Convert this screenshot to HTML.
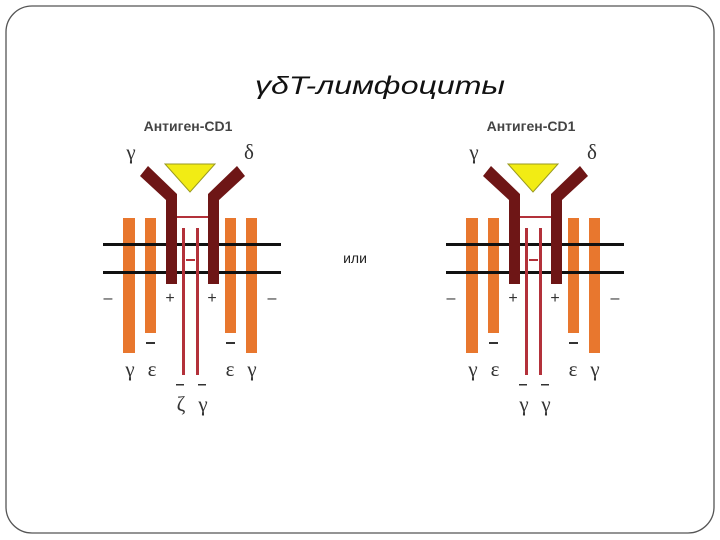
<!DOCTYPE html>
<html><head><meta charset="utf-8"><style>
html,body{margin:0;padding:0;background:#fff;width:720px;height:540px;overflow:hidden}
svg{display:block}
</style></head><body>
<svg width="720" height="540" viewBox="0 0 720 540" xmlns="http://www.w3.org/2000/svg" font-family="Liberation Sans, sans-serif">
<rect x="6" y="6" width="708" height="527" rx="26" fill="#fff" stroke="#555" stroke-width="1.3"/>
<text x="380" y="94" text-anchor="middle" font-size="25" font-style="italic" fill="#111" textLength="250" lengthAdjust="spacingAndGlyphs">γδT-лимфоциты</text>
<text x="355" y="263" text-anchor="middle" font-size="14" fill="#222">или</text>
<defs>
<g id="cell">
  <text x="188" y="131" text-anchor="middle" font-size="14" font-weight="bold" fill="#444">Антиген-CD1</text>
  <text x="131" y="159" text-anchor="middle" font-size="21" font-family="Liberation Serif, serif" fill="#333">γ</text>
  <text x="249" y="159" text-anchor="middle" font-size="21" font-family="Liberation Serif, serif" fill="#333">δ</text>
  <rect x="123" y="218" width="12" height="135" fill="#e8772e"/>
  <rect x="145" y="218" width="11" height="115" fill="#e8772e"/>
  <rect x="225" y="218" width="11" height="115" fill="#e8772e"/>
  <rect x="246" y="218" width="11" height="135" fill="#e8772e"/>
  <rect x="103" y="243" width="178" height="3" fill="#111"/>
  <rect x="103" y="271" width="178" height="3" fill="#111"/>
  <rect x="182" y="228" width="3" height="147" fill="#b3313a"/>
  <rect x="196" y="228" width="3" height="147" fill="#b3313a"/>
  <rect x="186" y="259" width="9" height="2" fill="#b3313a"/>
  <rect x="175" y="216" width="33" height="2" fill="#b3313a"/>
  <path d="M140 176 L148 166 L177 194 L177 284 L166 284 L166 200 Z" fill="#6e1616"/>
  <path d="M237 166 L245 176 L219 200 L219 284 L208 284 L208 194 Z" fill="#6e1616"/>
  <polygon points="165,164 215,164 190,192" fill="#f2ec14" stroke="#9a9a20" stroke-width="1"/>
  <g font-size="16" fill="#333" text-anchor="middle">
    <text x="108" y="303">–</text>
    <text x="170" y="303">+</text>
    <text x="212" y="303">+</text>
    <text x="272" y="303">–</text>
  </g>
  <rect x="146" y="342" width="9" height="2" fill="#333"/>
  <rect x="226" y="342" width="9" height="2" fill="#333"/>
  <rect x="176" y="384" width="8" height="1.5" fill="#333"/>
  <rect x="198" y="384" width="8" height="1.5" fill="#333"/>
</g>
</defs>
<use href="#cell"/>
<g font-size="21" font-family="Liberation Serif, serif" fill="#333" text-anchor="middle">
  <text x="130" y="376">γ</text><text x="152" y="376">ε</text>
  <text x="230" y="376">ε</text><text x="252" y="376">γ</text>
  <text x="181" y="411">ζ</text><text x="203" y="411">γ</text>
</g>
<use href="#cell" transform="translate(343,0)"/>
<g font-size="21" font-family="Liberation Serif, serif" fill="#333" text-anchor="middle">
  <text x="473" y="376">γ</text><text x="495" y="376">ε</text>
  <text x="573" y="376">ε</text><text x="595" y="376">γ</text>
  <text x="524" y="411">γ</text><text x="546" y="411">γ</text>
</g>
</svg>
</body></html>
